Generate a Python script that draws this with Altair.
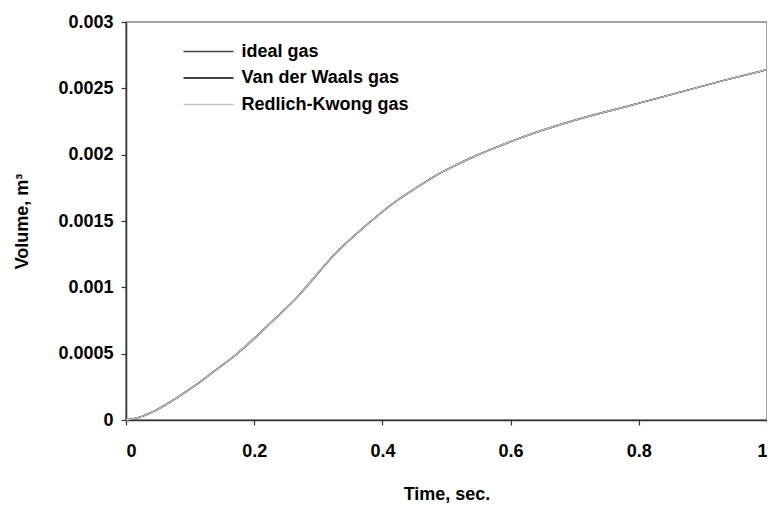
import altair as alt
import pandas as pd

time = [0.0, 0.0155, 0.047, 0.078, 0.109, 0.14, 0.171, 0.202, 0.233, 0.2655, 0.2966, 0.3276, 0.3587,
        0.39, 0.42, 0.452, 0.483, 0.514, 0.545, 0.58, 0.623, 0.7, 0.778, 0.856, 0.933, 1.0]
ideal = [0.0, 0.000013, 0.000075, 0.000163, 0.000264, 0.000377, 0.00049, 0.000623, 0.000766, 0.000917,
         0.00109, 0.00126, 0.0014, 0.00153, 0.001645, 0.001747, 0.001842, 0.00192, 0.00199, 0.00206,
         0.00214, 0.00226, 0.00236, 0.00246, 0.00256, 0.00264]
vdw = list(ideal)
rk = list(ideal)
series = ["ideal gas", "Van der Waals gas", "Redlich-Kwong gas"]
colors = ["#404040", "#000000", "#c0c0c0"]

rows = []
for k, (name, vals) in enumerate(zip(series, [ideal, vdw, rk])):
    for t, v in zip(time, vals):
        rows.append({"t": t, "v": v, "gas": name, "k": k})
df = pd.DataFrame(rows)

font = "Liberation Sans"

chart = alt.Chart(df).mark_line(strokeWidth=1.5, interpolate="monotone").encode(
    x=alt.X("t:Q", scale=alt.Scale(domain=[0, 1], nice=False),
            axis=alt.Axis(title="Time, sec.", values=[0, 0.2, 0.4, 0.6, 0.8, 1], format="~g",
                          grid=False, tickSize=5, labelPadding=17, titlePadding=25)),
    y=alt.Y("v:Q", scale=alt.Scale(domain=[0, 0.003], nice=False),
            axis=alt.Axis(title="Volume, m³", values=[0, 0.0005, 0.001, 0.0015, 0.002, 0.0025, 0.003],
                          format="~g", grid=False, tickSize=5, labelPadding=8, titlePadding=26)),
    color=alt.Color("gas:N", scale=alt.Scale(domain=series, range=colors),
                    legend=alt.Legend(title=None, orient="none", legendX=69, legendY=16,
                                      symbolType="M-2,0H2", symbolSize=625, symbolStrokeWidth=1.5,
                                      labelFont=font, labelFontSize=18, labelFontWeight="bold",
                                      labelColor="#000", rowPadding=3.5, labelOffset=19.5, labelLimit=400)),
    order=alt.Order("k:Q"),
).properties(
    width=641, height=398,
    autosize=alt.AutoSizeParams(type="none"),
    padding={"left": 118, "top": 14, "right": 0, "bottom": 86},
).configure_view(
    stroke="#888888", strokeWidth=1.5
).configure_axis(
    domainColor="#333333", tickColor="#333333", domainWidth=1.5, tickWidth=1.2,
    labelFont=font, labelFontSize=18, labelFontWeight="bold", labelColor="#000",
    titleFont=font, titleFontSize=18, titleFontWeight="bold", titleColor="#000",
)

chart.save("out.html", embed_options={"renderer": "svg", "actions": False})
